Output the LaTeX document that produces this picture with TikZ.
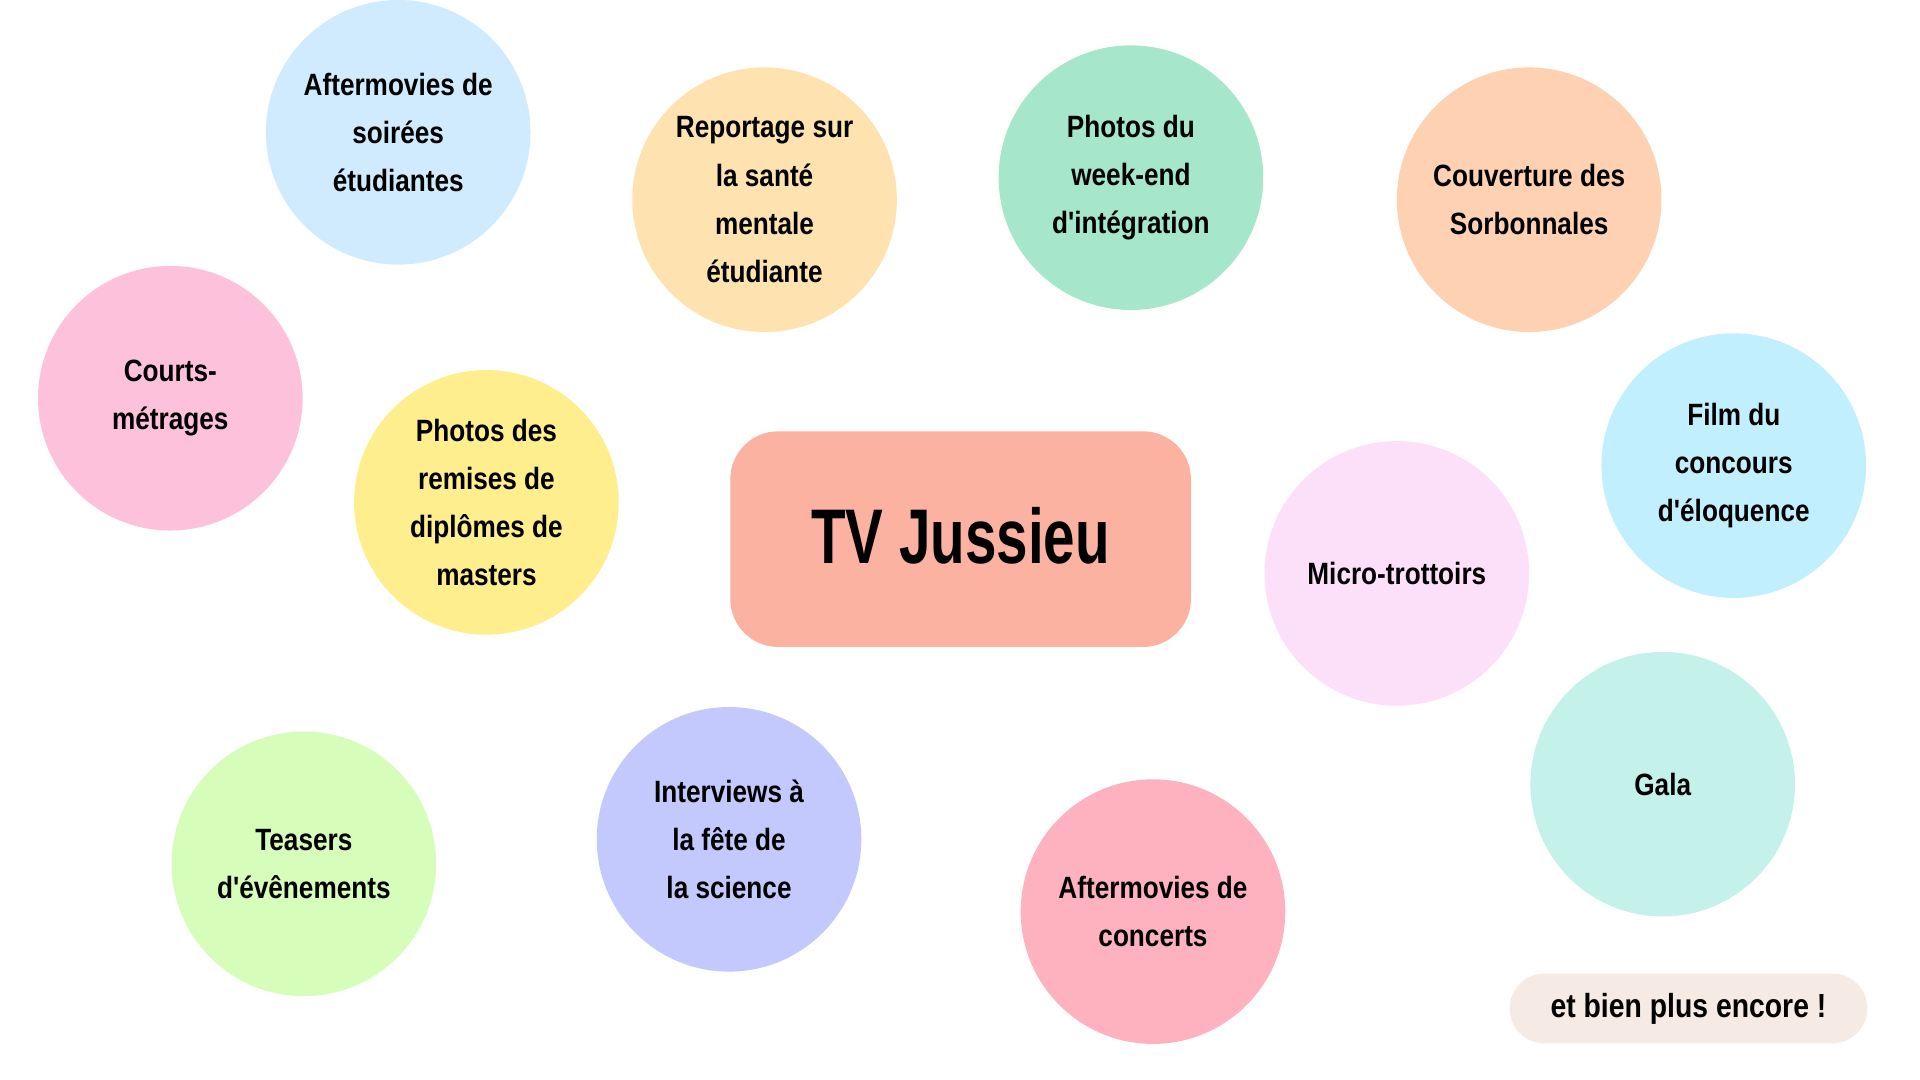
\documentclass[tikz,border=0pt]{standalone}
\usepackage{fontspec}
\setmainfont{Liberation Sans}
\newfontfamily\bullefont{Liberation Sans}[FakeStretch=0.85,Ligatures=TeXOff]
\newfontfamily\titrefont{Liberation Sans}[FakeStretch=0.73,Ligatures=TeXOff]
\definecolor{cSoirees}{HTML}{D1EBFE}
\definecolor{cSante}{HTML}{FEE2AF}
\definecolor{cIntegration}{HTML}{A6E6CA}
\definecolor{cSorbonnales}{HTML}{FDD1B2}
\definecolor{cCourts}{HTML}{FDC1DC}
\definecolor{cDiplomes}{HTML}{FEEE8E}
\definecolor{cEloquence}{HTML}{C2EFFD}
\definecolor{cTrottoirs}{HTML}{FCDFF9}
\definecolor{cGala}{HTML}{C4F2EA}
\definecolor{cTeasers}{HTML}{D6FDB9}
\definecolor{cScience}{HTML}{C3C9FD}
\definecolor{cConcerts}{HTML}{FEB1BE}
\definecolor{cTitre}{HTML}{FBB2A1}
\definecolor{cEncore}{HTML}{F6EAE4}
\begin{document}
\begin{tikzpicture}[x=0.02cm,y=-0.02cm,
    bulle/.style={circle,minimum size=4.32cm,inner sep=0pt,align=center,
      font=\bullefont\bfseries\fontsize{14.3}{22.4}\selectfont},
    titre/.style={rectangle,rounded corners=0.78cm,minimum width=7.52cm,minimum height=3.52cm,
      inner sep=0pt,fill=cTitre,font=\titrefont\bfseries\fontsize{36}{40}\selectfont},
    pastille/.style={rectangle,rounded corners=0.57cm,minimum width=5.84cm,minimum height=1.14cm,
      inner sep=0pt,fill=cEncore,font=\bullefont\bfseries\fontsize{15.5}{18}\selectfont}]
  \useasboundingbox (0,0) rectangle (1567,881.4);
  % centre
  \node[titre] (tvj) at (784,440) {\raisebox{1.2mm}{TV Jussieu}};
  % bulles du haut
  \node[bulle,fill=cSoirees] (soirees) at (325,108) {Aftermovies de\\soirées\\étudiantes};
  \node[bulle,fill=cSante] (sante) at (624,163) {Reportage sur\\la santé\\mentale\\étudiante};
  \node[bulle,fill=cIntegration] (integration) at (923,145) {Photos du\\week-end\\d'intégration};
  \node[bulle,fill=cSorbonnales] (sorbonnales) at (1248,163) {Couverture des\\Sorbonnales};
  % bulles du milieu
  \node[bulle,fill=cCourts] (courts) at (139,325) {Courts-\\métrages};
  \node[bulle,fill=cDiplomes] (diplomes) at (397,410) {Photos des\\remises de\\diplômes de\\masters};
  \node[bulle,fill=cEloquence] (eloquence) at (1415,380) {Film du\\concours\\d'éloquence};
  \node[bulle,fill=cTrottoirs] (trottoirs) at (1140,468) {Micro-trottoirs};
  % bulles du bas
  \node[bulle,fill=cGala] (gala) at (1357,640) {Gala};
  \node[bulle,fill=cTeasers] (teasers) at (248,705) {Teasers\\d'évênements};
  \node[bulle,fill=cScience] (science) at (595,685) {Interviews à\\la fête de\\la science};
  \node[bulle,fill=cConcerts] (concerts) at (941,744) {Aftermovies de\\concerts};
  \node[pastille] (encore) at (1378,823) {et bien plus encore !};
\end{tikzpicture}
\end{document}
